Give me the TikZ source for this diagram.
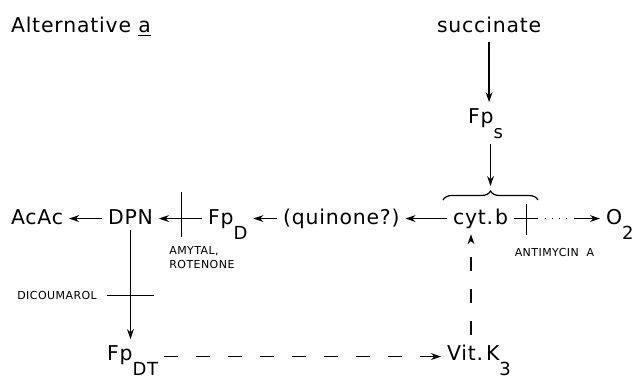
\documentclass[tikz,border=0pt]{standalone}
\usepackage{fontspec}
\setmainfont[LetterSpace=4]{DejaVu Sans}
\usetikzlibrary{arrows.meta,decorations.pathreplacing}
\newcommand\lowsub[1]{\raisebox{-7.5pt}{\fontsize{9}{9}\selectfont #1}}

\begin{document}
\begin{tikzpicture}[x=0.5pt,y=-0.5pt,line width=0.6pt,
  comp/.style={inner sep=0pt,outer sep=3pt,font=\fontsize{10.2}{12}\selectfont,anchor=base west},
  tag/.style={inner sep=0pt,font=\fontsize{5.5}{7}\selectfont},
  flow/.style={-{Stealth[length=5pt,width=3.4pt]}},
  broken/.style={flow,dash pattern=on 7pt off 9pt}]
  \useasboundingbox (0,0) rectangle (636,377);
  % carriers, placed at their baselines
  \node[comp] (title) at (5,32) {Alternative \underline{a}};
  \node[comp] (succ) at (431,32) {succinate};
  \node[comp] (fps) at (462,123) {Fp\lowsub{s}};
  \node[comp] (acac) at (5,224) {AcAc};
  \node[comp] (dpn) at (102,224) {DPN};
  \node[comp] (fpd) at (202,224) {Fp\lowsub{D}};
  \node[comp] (quin) at (277,224) {(quinone?)};
  \node[comp] (cytb) at (447,224) {cyt.\kern1pt b};
  \node[comp] (o2) at (600,224) {O\lowsub{2}};
  \node[comp] (fpdt) at (101,360) {Fp\lowsub{DT}};
  \node[comp] (vitk) at (441,360) {Vit.\kern1.5pt K\lowsub{3}};
  % succinate branch and the brace over cyt. b
  \draw[decorate,decoration={brace,amplitude=4.5pt}] (443,200) -- (538,200);
  \coordinate (cusp) at (490.5,191);
  \draw[flow,shorten <=2pt] (succ.south) -- (succ.south |- fps.north);
  \draw[flow] (fps.south -| cusp) -- ([yshift=2.5pt]cusp);
  % main chain
  \draw[flow] (cytb.mid west) -- (quin.mid east);
  \draw[flow] (quin.mid west) -- (fpd.mid east);
  \draw[flow] (fpd.mid west) -- coordinate[pos=0.47] (amybar) (dpn.mid east);
  \draw[flow] (dpn.mid west) -- (acac.mid east);
  \draw[flow,dash pattern=on 12pt off 3.5pt on 0.6pt off 2.8pt on 0.6pt off 2.8pt on 0.6pt off 2.8pt on 0.6pt off 3.5pt on 40pt]
    (cytb.mid east) -- coordinate[pos=0.14] (antibar) (o2.mid west);
  \draw[flow] (dpn.south) -- coordinate[pos=0.6] (dicbar) (dpn.south |- fpdt.north);
  % vitamin K3 bypass
  \draw[broken] ([yshift=-1pt]fpdt.mid east) -- ([yshift=-1pt]vitk.mid west);
  \draw[broken,shorten <=2pt] ([xshift=-4pt]vitk.north) -- ([xshift=-4pt]vitk.north |- cytb.south);
  % inhibitor bars
  \draw (amybar) ++(0,-27) -- ++(0,45);
  \draw (antibar) ++(0,-15) -- ++(0,31);
  \draw (dicbar) ++(-23,0) -- ++(47,0);
  \node[tag,anchor=north west,align=left] (amytal) at ([xshift=-6.5pt,yshift=-13.5pt]amybar) {AMYTAL,\\ROTENONE};
  \node[tag,anchor=west] (antimycin) at ([xshift=-6pt,yshift=-17pt]antibar) {ANTIMYCIN\ \ A};
  \node[tag,anchor=east] (dicou) at ([xshift=-16.5pt]dicbar) {DICOUMAROL};
\end{tikzpicture}
\end{document}
